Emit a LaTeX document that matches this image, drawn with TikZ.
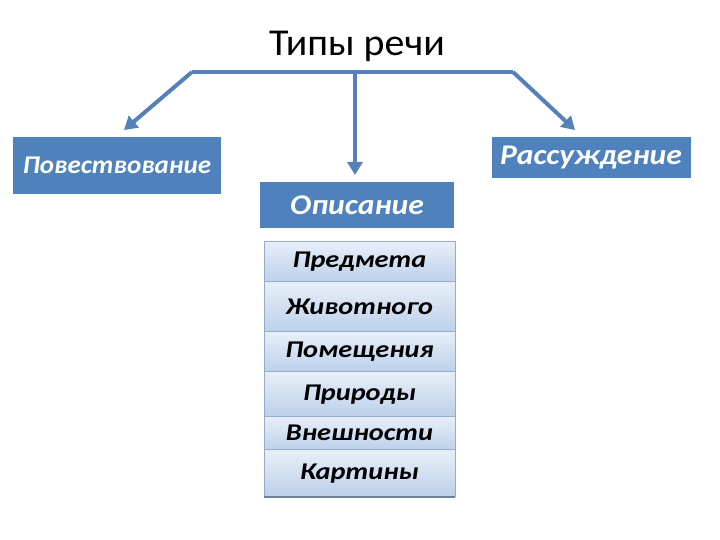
\documentclass[tikz,border=0pt]{standalone}
\usepackage{fontspec}
\setmainfont{Carlito}
\newfontfamily\titlefont[FakeStretch=1.05]{Carlito}
\newfontfamily\povfont[FakeStretch=1.06]{Carlito}
\newfontfamily\boxfont[FakeStretch=1.11]{Carlito}
\newfontfamily\rowfont[FakeStretch=1.18]{Carlito}
\usetikzlibrary{arrows.meta}
\definecolor{boxblue}{HTML}{4F81BD}
\definecolor{arrblue}{HTML}{5580B9}
\definecolor{rowtop}{HTML}{E8EFF9}
\definecolor{rowbot}{HTML}{BCD0EA}
\definecolor{rowline}{HTML}{95ABCB}
\definecolor{rowshadow}{HTML}{6F7F95}
\begin{document}
\begin{tikzpicture}[x=1pt,y=-1pt,
  bluebox/.style={fill=boxblue, text=white, inner sep=0pt},
  rowbox/.style={top color=rowtop, bottom color=rowbot, draw=rowline, line width=0.8pt,
    minimum width=191pt, inner sep=0pt, font=\rowfont\bfseries\itshape\fontsize{24}{28}\selectfont},
  conn/.style={draw=arrblue, line width=4pt},
  arr/.style={conn, -{Triangle[length=13pt,width=15pt]}}]
\useasboundingbox (0,0) rectangle (720,540);

\node (title) at (357,46) {\titlefont\fontsize{38}{44}\selectfont Типы речи};

\node[bluebox, minimum width=208pt, minimum height=57pt, font=\povfont\bfseries\itshape\fontsize{25.5}{30}\selectfont] (pov) at (117,165.5) {Повествование};
\node[bluebox, minimum width=199pt, minimum height=41.5pt, font=\boxfont\bfseries\itshape\fontsize{28.5}{33}\selectfont] (ras) at (591,157.5) {Рассуждение};
\node[bluebox, minimum width=194pt, minimum height=46.5pt, font=\boxfont\bfseries\itshape\fontsize{28.5}{33}\selectfont] (opi) at (357,205) {Описание};

\node[rowbox, minimum height=40pt] (r1) at (359.5,261.7) {Предмета};
\node[rowbox, minimum height=50pt] (r2) at (359.5,306.7) {Животного};
\node[rowbox, minimum height=40pt] (r3) at (359.5,351.7) {Помещения};
\node[rowbox, minimum height=45pt] (r4) at (359.5,394.2) {Природы};
\node[rowbox, minimum height=33pt] (r5) at (359.5,433.3) {Внешности};
\node[rowbox, minimum height=47pt] (r6) at (359.5,473.3) {Картины};
\draw[rowshadow, line width=1.5pt] (r6.south west) -- (r6.south east);

\coordinate (hl) at (192,72);
\coordinate (hc) at (355,72);
\coordinate (hr) at (513,72);
\coordinate (tl) at (124,130);
\coordinate (tc) at (355,175);
\coordinate (tr) at (575,130);

\draw[conn, line join=round] (hl) -- (hr);
\draw[arr] (hl) -- (tl);
\draw[arr] (hc) -- (tc);
\draw[arr] (hr) -- (tr);
\end{tikzpicture}
\end{document}
